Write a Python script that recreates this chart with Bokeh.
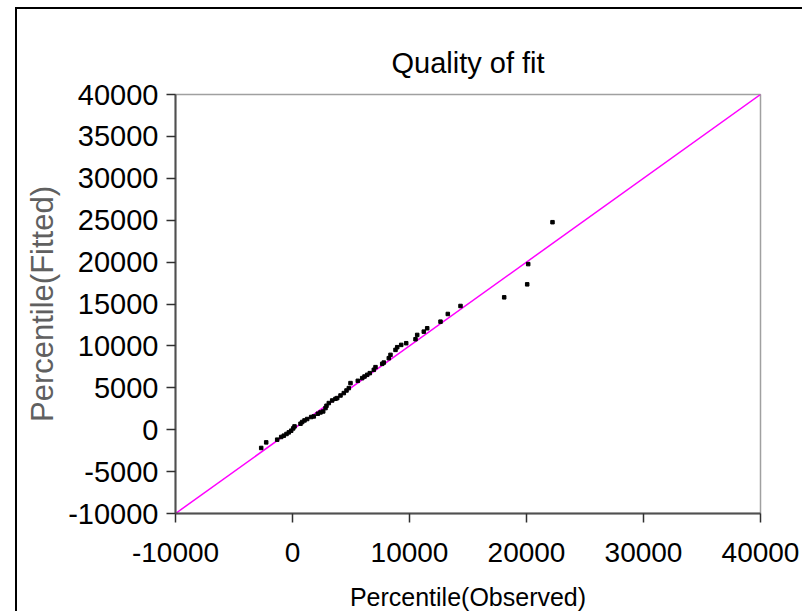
from bokeh.plotting import figure
from bokeh.models import Range1d, FixedTicker, PrintfTickFormatter
from bokeh.embed import file_html
from bokeh.resources import INLINE

# Percentile pairs: observed vs fitted
observed = [-2675, -2248, -1308, -966, -744, -513, -316, -111, 60, 171, 684, 829,
            1026, 1256, 1598, 1821, 2162, 2393, 2624, 2821, 2906, 3103, 3393, 3675,
            3821, 4103, 4385, 4615, 4812, 4957, 5581, 5957, 6154, 6385, 6607, 6949,
            7094, 7667, 7803, 8231, 8376, 8803, 8949, 9291, 9718, 10513, 10658, 11222,
            11513, 12650, 13274, 14359, 18094, 20060, 20145, 22222]
fitted = [-2179, -1512, -1190, -869, -714, -512, -321, -119, 155, 393, 714, 917,
          1107, 1274, 1512, 1583, 1905, 2060, 2179, 2583, 2857, 3179, 3488, 3690,
          3774, 4083, 4369, 4679, 4964, 5560, 5833, 6155, 6345, 6548, 6750, 7143,
          7464, 7857, 8012, 8536, 8929, 9524, 9845, 10119, 10321, 10798, 11310, 11702,
          12107, 12893, 13810, 14762, 15798, 17345, 19762, 24762]

# Reference line y = x
diag = [-10000, 40000]
x_ticks = [-10000, 0, 10000, 20000, 30000, 40000]
y_ticks = [-10000, -5000, 0, 5000, 10000, 15000, 20000, 25000, 30000, 35000, 40000]

FONT = "Liberation Sans"
OFF_X, OFF_Y, BW = 15, 7, 2   # chart-area border offset and width
W, H = 787, 604                # canvas size inside the border

p = figure(width=W, height=H,
           output_backend="svg", toolbar_location=None,
           x_range=Range1d(-10000, 40000), y_range=Range1d(-10000, 40000),
           min_border_left=175 - OFF_X - BW, min_border_right=W - (760 - OFF_X - BW),
           min_border_top=94 - OFF_Y - BW, min_border_bottom=(OFF_Y + BW + H) - 514,
           title="Quality of fit",
           styles={"border-left": f"{BW}px solid black",
                   "border-top": f"{BW}px solid black",
                   "margin-left": f"{OFF_X}px", "margin-top": f"{OFF_Y}px",
                   "overflow": "hidden"})

p.title.align = "center"
p.title.text_font = FONT
p.title.text_font_size = "29px"
p.title.text_font_style = "normal"
p.title.text_color = "black"
p.title.standoff = 31

p.xgrid.visible = False
p.ygrid.visible = False
p.outline_line_color = "#a0a0a0"
p.outline_line_width = 1.5

for ax in (p.xaxis, p.yaxis):
    ax.axis_line_color = "#505050"
    ax.axis_line_width = 2
    ax.major_tick_line_color = "#303030"
    ax.major_tick_line_width = 1.5
    ax.major_tick_in = 0
    ax.major_tick_out = 9
    ax.minor_tick_line_color = None
    ax.major_label_text_font = FONT
    ax.major_label_text_color = "black"
    ax.axis_label_text_font = FONT
    ax.axis_label_text_font_style = "normal"
    ax.formatter = PrintfTickFormatter(format="%d")

p.xaxis.ticker = FixedTicker(ticks=x_ticks)
p.yaxis.ticker = FixedTicker(ticks=y_ticks)
p.xaxis.major_label_text_font_size = "28px"
p.yaxis.major_label_text_font_size = "29px"
p.xaxis.axis_label = "Percentile(Observed)"
p.yaxis.axis_label = "Percentile(Fitted)"
p.xaxis.axis_label_text_font_size = "25px"
p.yaxis.axis_label_text_font_size = "31px"
p.yaxis.axis_label_text_color = "#606060"
p.xaxis.axis_label_text_color = "black"
p.xaxis.major_label_standoff = 20
p.yaxis.major_label_standoff = 8
p.xaxis.axis_label_standoff = 18

p.line(diag, diag, line_color="#ff00ff", line_width=1.5)
p.scatter(observed, fitted, marker="square", size=3.5, color="black")

open("out.html", "w").write(file_html(p, INLINE))
